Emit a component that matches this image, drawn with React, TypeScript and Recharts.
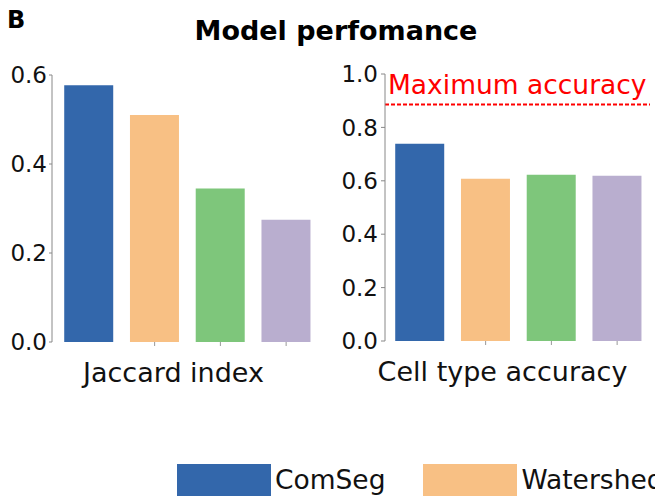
import { BarChart, Bar, XAxis, YAxis, Cell, ReferenceLine } from 'recharts';

const methods = ['ComSeg', 'Watershed', 'Baysor', 'pciSeg'];
const colors = ['#3367ab', '#f8c084', '#7ec67b', '#b9aecf'];
const jaccard = [0.577, 0.51, 0.345, 0.275];
const cellTypeAccuracy = [0.739, 0.608, 0.623, 0.619];
const maxAccuracy = 0.886;
const jaccardTicks = [0, 0.2, 0.4, 0.6];
const accuracyTicks = [0, 0.2, 0.4, 0.6, 0.8, 1.0];
// only the first two legend entries fit in the frame
const legendItems = methods.slice(0, 2);

const font = '"DejaVu Sans", sans-serif';

const jaccardData = methods.map((m, i) => ({ method: m, value: jaccard[i] }));
const accuracyData = methods.map((m, i) => ({ method: m, value: cellTypeAccuracy[i] }));

const noTick = () => <g />;

const MaxLabel = (props: any) => {
  const vb = props.viewBox;
  return (
    <text x={vb.x + 3} y={vb.y - 10} fill="#ff0000" fontSize={26.5} fontFamily={font}>
      Maximum accuracy
    </text>
  );
};

const App = () => {
  return (
    <div
      style={{
        position: 'absolute',
        left: 0,
        top: 0,
        width: 655,
        height: 500,
        overflow: 'hidden',
        background: '#fff',
        fontFamily: font,
      }}
    >
      <div style={{ position: 'absolute', left: 7, top: 8, fontSize: 24, fontWeight: 'bold', lineHeight: '24px' }}>B</div>
      <div
        style={{
          position: 'absolute',
          left: 0,
          width: 672,
          top: 14,
          textAlign: 'center',
          fontSize: 27,
          fontWeight: 'bold',
          lineHeight: '34px',
        }}
      >
        Model perfomance
      </div>

      <div style={{ position: 'absolute', left: 0, top: 0 }}>
        <BarChart
          width={330}
          height={400}
          data={jaccardData}
          margin={{ top: 75, right: 11, left: 8, bottom: 8 }}
          barCategoryGap="12.5%"
        >
          <XAxis
            dataKey="method"
            axisLine={false}
            tickLine={{ stroke: '#999' }}
            tickSize={4}
            tick={noTick}
            height={50}
            padding={{ left: 4, right: 0 }}
            label={{ value: 'Jaccard index', position: 'insideBottom', offset: 10, dx: -12, fontSize: 27, fill: '#111', fontFamily: font }}
          />
          <YAxis
            width={44}
            domain={[0, 0.6]}
            ticks={jaccardTicks}
            tickFormatter={(v: number) => v.toFixed(1)}
            axisLine={{ stroke: '#888' }}
            tickLine={{ stroke: '#888' }}
            tickSize={3}
            tickMargin={2}
            tick={{ fontSize: 23, fill: '#111', fontFamily: font }}
          />
          <Bar dataKey="value" isAnimationActive={false}>
            {jaccardData.map((d, i) => (
              <Cell key={d.method} fill={colors[i]} />
            ))}
          </Bar>
        </BarChart>
      </div>

      <div style={{ position: 'absolute', left: 330, top: 0 }}>
        <BarChart
          width={325}
          height={400}
          data={accuracyData}
          margin={{ top: 74, right: 5, left: 8, bottom: 9 }}
          barCategoryGap="12.5%"
        >
          <XAxis
            dataKey="method"
            axisLine={false}
            tickLine={{ stroke: '#999' }}
            tickSize={4}
            tick={noTick}
            height={50}
            padding={{ left: 2, right: 0 }}
            label={{ value: 'Cell type accuracy', position: 'insideBottom', offset: 10, dx: -15, fontSize: 27, fill: '#111', fontFamily: font }}
          />
          <YAxis
            width={47}
            domain={[0, 1]}
            ticks={accuracyTicks}
            tickFormatter={(v: number) => v.toFixed(1)}
            axisLine={{ stroke: '#888' }}
            tickLine={{ stroke: '#888' }}
            tickSize={4}
            tickMargin={3}
            tick={{ fontSize: 23, fill: '#111', fontFamily: font }}
          />
          <Bar dataKey="value" isAnimationActive={false}>
            {accuracyData.map((d, i) => (
              <Cell key={d.method} fill={colors[i]} />
            ))}
          </Bar>
          <ReferenceLine
            y={maxAccuracy}
            stroke="#ff0000"
            strokeWidth={2}
            strokeDasharray="4 2"
            label={MaxLabel}
            ifOverflow="visible"
          />
        </BarChart>
      </div>

      <div style={{ position: 'absolute', left: 177, top: 464, display: 'flex', whiteSpace: 'nowrap' }}>
        {legendItems.map((m, i) => (
          <div key={m} style={{ display: 'flex', alignItems: 'center', marginRight: 38 }}>
            <div style={{ width: 94, height: 32, background: colors[i] }} />
            <span style={{ marginLeft: 4, fontSize: 26.5, color: '#111', lineHeight: '32px' }}>{m}</span>
          </div>
        ))}
      </div>
    </div>
  );
};

export default App;
